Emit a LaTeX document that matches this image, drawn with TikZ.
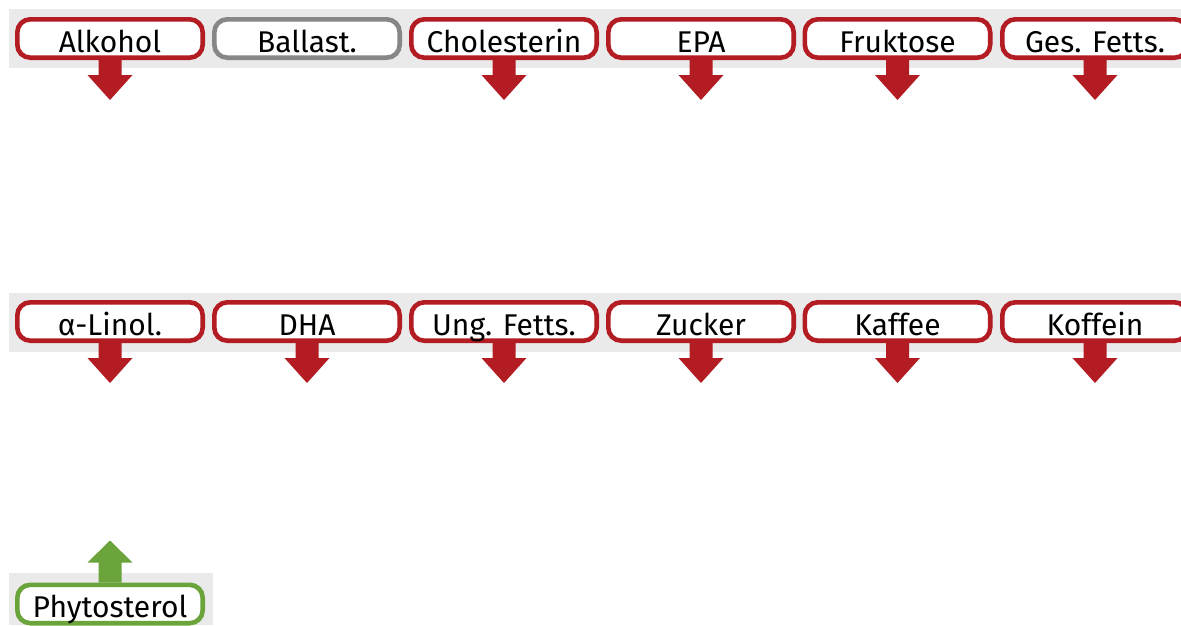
\documentclass[tikz,border=0pt]{standalone}
\usepackage{fontspec}
\setmainfont{Fira Sans}
\usetikzlibrary{calc}
\definecolor{rowband}{RGB}{234,234,234}
\definecolor{alertred}{RGB}{178,28,34}
\definecolor{neutralgray}{RGB}{135,135,135}
\definecolor{goodgreen}{RGB}{106,164,58}
\begin{document}
\begin{tikzpicture}[x=1pt,y=-1pt,
  tag/.style={draw=alertred,line width=4.6pt,fill=white,rounded corners=13pt,
    minimum width=185.4pt,minimum height=38.4pt,inner sep=0pt,
    text height=30pt,text depth=3pt,
    font=\fontsize{30}{36}\selectfont},
  neutraltag/.style={tag,draw=neutralgray},
  goodtag/.style={tag,draw=goodgreen},
  downarrow/.style={fill=alertred},
  uparrow/.style={fill=goodgreen}]
\useasboundingbox (0,0) rectangle (1181,625);
% background bands
\fill[rowband] (9,9) rectangle (1181,68);
\fill[rowband] (9,293) rectangle (1181,352);
\fill[rowband] (9,573) rectangle (213,625);
% first row
\node[tag] (alk) at (110,38.5) {Alkohol};
\node[neutraltag] (bal) at (307,38.5) {Ballast.};
\node[tag] (cho) at (504,38.5) {Cholesterin};
\node[tag] (epa) at (701,38.5) {EPA};
\node[tag] (fru) at (897.5,38.5) {Fruktose};
\node[tag] (ges) at (1095,38.5) {Ges. Fetts.};
% second row
\node[tag] (lin) at (110,321.5) {α-Linol.};
\node[tag] (dha) at (307,321.5) {DHA};
\node[tag] (ung) at (504,321.5) {Ung. Fetts.};
\node[tag] (zuc) at (701,321.5) {Zucker};
\node[tag] (kaf) at (897.5,321.5) {Kaffee};
\node[tag] (kof) at (1095,321.5) {Koffein};
% third row
\node[goodtag] (phy) at (110,604) {Phytosterol};
% downward arrows below the red tags
\foreach \n in {alk,cho,epa,fru,ges,lin,dha,ung,zuc,kaf,kof}{
  \fill[downarrow] ($(\n.south)+(-11.5,0)$) -- ++(0,15) -- ++(-11,0)
    -- ($(\n.south)+(0,40)$) -- ($(\n.south)+(22.5,15)$) -- ++(-11,0)
    -- ++(0,-15) -- cycle;
}
% upward arrow above the green tag
\fill[uparrow] ($(phy.north)+(-11.5,0)$) -- ++(0,-20) -- ++(-11,0)
  -- ($(phy.north)+(0,-42)$) -- ($(phy.north)+(22.5,-20)$) -- ++(-11,0)
  -- ++(0,20) -- cycle;
\end{tikzpicture}
\end{document}
